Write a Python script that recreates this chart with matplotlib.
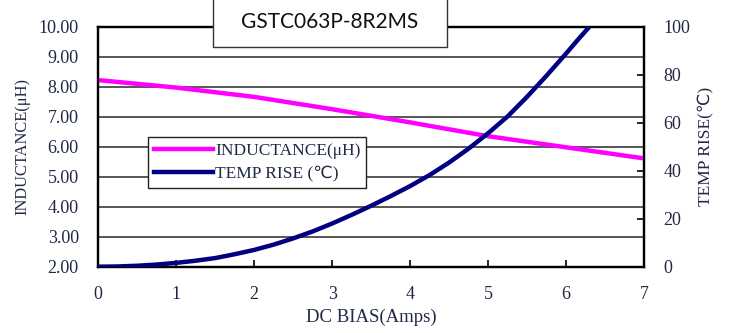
import matplotlib
matplotlib.use("Agg")
import matplotlib.pyplot as plt
from matplotlib.patches import Rectangle

# data
bias = [0, 1, 2, 3, 4, 5, 6, 7]
inductance = [8.22, 7.97, 7.66, 7.25, 6.81, 6.35, 5.98, 5.61]

bias_t = [0, 0.25, 0.5, 0.75, 1, 1.25, 1.5, 1.75, 2, 2.25, 2.5, 2.75, 3, 3.25,
          3.5, 3.75, 4, 4.25, 4.5, 4.75, 5, 5.25, 5.5, 5.75, 6, 6.15, 6.3]
temp_rise = [0, 0.1, 0.4, 0.9, 1.6, 2.5, 3.6, 5.2, 7.0, 9.2, 11.8, 14.7, 18.0, 21.6,
             25.4, 29.4, 33.6, 38.2, 43.4, 49.2, 55.6, 62.6, 70.8, 79.6, 88.8, 94.5, 100.0]

left_ticks = [2, 3, 4, 5, 6, 7, 8, 9, 10]
right_ticks = [0, 20, 40, 60, 80, 100]
title = "GSTC063P-8R2MS"

serif = ["Liberation Serif", "DejaVu Sans"]
txt = "#1f2846"
pink = "#ff00ff"
navy = "#000080"

plt.rcParams["font.family"] = serif

fig = plt.figure(figsize=(7.31, 3.33), dpi=100)
W, H = 731, 333
l, r, t, b = 98.3, 644, 26.7, 266.7
ax = fig.add_axes([l / W, 1 - b / H, (r - l) / W, (b - t) / H])
ax2 = ax.twinx()

ax.plot(bias, inductance, color=pink, lw=3.2, label="INDUCTANCE(μH)", zorder=3)
ax2.plot(bias_t, temp_rise, color=navy, lw=3.2, label="TEMP RISE (℃)", zorder=3,
         solid_joinstyle="round")

ax.set_xlim(0, 7)
ax.set_ylim(2, 10)
ax2.set_ylim(0, 100)
ax.set_yticks(left_ticks)
ax.set_yticklabels([f"{v:.2f}" for v in left_ticks])
ax2.set_yticks(right_ticks)
ax.set_xticks(bias)

ax.grid(axis="y", color="#3a3a3a", lw=1.2)
ax.set_axisbelow(True)
for s in ax.spines.values():
    s.set_linewidth(1.6)
for s in ax2.spines.values():
    s.set_linewidth(1.6)

ax.tick_params(axis="x", direction="in", length=5, width=1.2, labelsize=13,
               labelcolor=txt, pad=14)
ax.tick_params(axis="y", direction="in", length=0, labelsize=13,
               labelcolor=txt, pad=14)
ax2.tick_params(axis="y", direction="in", length=5, width=1.2, labelsize=13,
                labelcolor=txt, pad=14)

ax.set_xlabel("DC BIAS(Amps)", fontsize=13.5, color=txt, labelpad=4)
ax.set_ylabel("INDUCTANCE(μH)", fontsize=11.8, color=txt, labelpad=6)
ax2.set_ylabel("TEMP RISE(℃)", fontsize=12.5, color=txt, labelpad=6)

h1, lab1 = ax.get_legend_handles_labels()
h2, lab2 = ax2.get_legend_handles_labels()
leg = ax2.legend(h1 + h2, lab1 + lab2, loc="upper left",
                 bbox_to_anchor=(148 / W, 1 - 137 / H), bbox_transform=fig.transFigure,
                 borderaxespad=0, fancybox=False, edgecolor="#222222", framealpha=1,
                 fontsize=12.5, handlelength=3.4, handletextpad=0.1,
                 borderpad=0.35, labelspacing=0.4, labelcolor=txt)
leg.get_frame().set_linewidth(1.0)

# title box overlapping the top of the plot
fig.patches.append(Rectangle((212.7 / W, 1 - 46.7 / H), (446.7 - 212.7) / W, 60 / H,
                             transform=fig.transFigure, facecolor="white",
                             edgecolor="#333333", lw=1.0, zorder=5))
fig.text(330 / W, 1 - 22 / H, title, family="Lato", fontsize=15,
         ha="center", va="center", color="#111111", zorder=6)

fig.savefig("out.png", dpi=100)
